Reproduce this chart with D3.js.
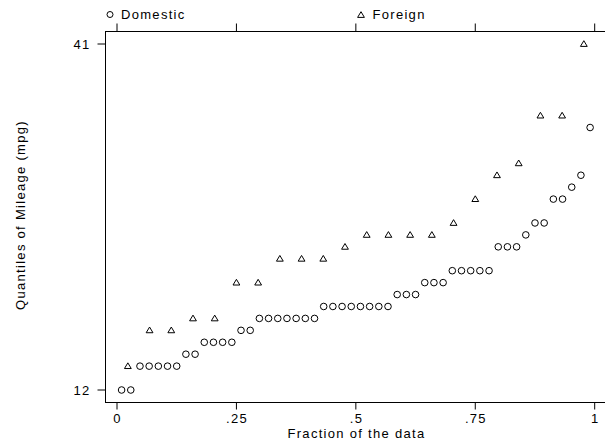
<!DOCTYPE html>
<html lang="en">
<head>
    <meta charset="UTF-8">
    <title>Quantiles of Mileage</title>
    <script src="https://d3js.org/d3.v7.min.js"></script>
    <style>
        body { margin: 0; background: #fff; }
        text { font-family: "Liberation Sans", Arial, Helvetica, sans-serif; fill: #000; font-size: 13px; letter-spacing: 1.3px; }
    </style>
</head>
<body>
    <svg width="605" height="442"></svg>

    <script>
        // sorted mpg values by origin
        const domesticMpg = [12,12,14,14,14,14,14,15,15,16,16,16,16,17,17,18,18,18,18,18,18,18,
                             19,19,19,19,19,19,19,19,20,20,20,21,21,21,22,22,22,22,22,24,24,24,
                             25,26,26,28,28,29,30,34];
        const foreignMpg = [14,17,17,18,18,21,21,23,23,23,24,25,25,25,25,26,28,30,31,35,35,41];
        const xTicks = [0, 0.25, 0.5, 0.75, 1];
        const xTickLabels = ["0", ".25", ".5", ".75", "1"];
        const yTicks = [12, 41];

        const svg = d3.select("svg");

        const plotLeft = 105.5, plotTop = 31.5, plotBottom = 402.5;

        // fraction of the data: (i - 0.5) / n
        const quantiles = arr => arr.map((v, i) => ({ f: (i + 0.5) / arr.length, v: v }));

        const xScale = d3.scaleLinear().domain([0, 1]).range([117, 594.7]);
        const yScale = d3.scaleLinear().domain([12, 41]).range([390, 44]);

        // plot frame (right edge runs off the page)
        svg.append("rect")
           .attr("x", plotLeft).attr("y", plotTop)
           .attr("width", 540).attr("height", plotBottom - plotTop)
           .attr("fill", "none").attr("stroke", "#000").attr("stroke-width", 1);

        // bottom axis
        const bx = svg.append("g");
        bx.selectAll("line").data(xTicks).enter().append("line")
          .attr("x1", d => xScale(d)).attr("x2", d => xScale(d))
          .attr("y1", plotBottom).attr("y2", plotBottom + 7)
          .attr("stroke", "#000");
        bx.selectAll("text").data(xTicks).enter().append("text")
          .attr("x", d => xScale(d) + 0.6).attr("y", 423)
          .attr("text-anchor", "middle")
          .text((d, i) => xTickLabels[i]);

        // top axis ticks (no labels)
        svg.append("g").selectAll("line").data(xTicks).enter().append("line")
           .attr("x1", d => xScale(d)).attr("x2", d => xScale(d))
           .attr("y1", plotTop).attr("y2", plotTop - 8)
           .attr("stroke", "#000");

        // left axis
        const ly = svg.append("g");
        ly.selectAll("line").data(yTicks).enter().append("line")
          .attr("x1", plotLeft - 8).attr("x2", plotLeft)
          .attr("y1", d => yScale(d)).attr("y2", d => yScale(d))
          .attr("stroke", "#000");
        ly.selectAll("text").data(yTicks).enter().append("text")
          .attr("x", 90.5).attr("y", d => yScale(d) + 4.5)
          .attr("text-anchor", "end")
          .text(d => d);

        // axis titles
        svg.append("text")
           .attr("x", 356.5).attr("y", 437.5)
           .attr("text-anchor", "middle")
           .text("Fraction of the data");

        svg.append("text")
           .attr("transform", "translate(25,215) rotate(-90)")
           .attr("text-anchor", "middle")
           .text("Quantiles of Mileage (mpg)");

        const triPath = (x, y) => `M${x},${y - 3.3}L${x + 3.4},${y + 2.4}L${x - 3.4},${y + 2.4}Z`;

        // domestic: hollow circles
        svg.append("g").selectAll("circle")
           .data(quantiles(domesticMpg)).enter().append("circle")
           .attr("cx", d => xScale(d.f))
           .attr("cy", d => yScale(d.v))
           .attr("r", 3.3)
           .attr("fill", "none").attr("stroke", "#000").attr("stroke-width", 1);

        // foreign: hollow triangles
        svg.append("g").selectAll("path")
           .data(quantiles(foreignMpg)).enter().append("path")
           .attr("d", d => triPath(xScale(d.f), yScale(d.v)))
           .attr("fill", "none").attr("stroke", "#000").attr("stroke-width", 1);

        // legend along the top
        svg.append("circle")
           .attr("cx", 110).attr("cy", 14.5).attr("r", 3)
           .attr("fill", "none").attr("stroke", "#000");
        svg.append("text")
           .attr("x", 121).attr("y", 19)
           .text("Domestic");
        svg.append("path")
           .attr("d", triPath(361, 15))
           .attr("fill", "none").attr("stroke", "#000");
        svg.append("text")
           .attr("x", 372.5).attr("y", 19)
           .text("Foreign");
    </script>
</body>
</html>
